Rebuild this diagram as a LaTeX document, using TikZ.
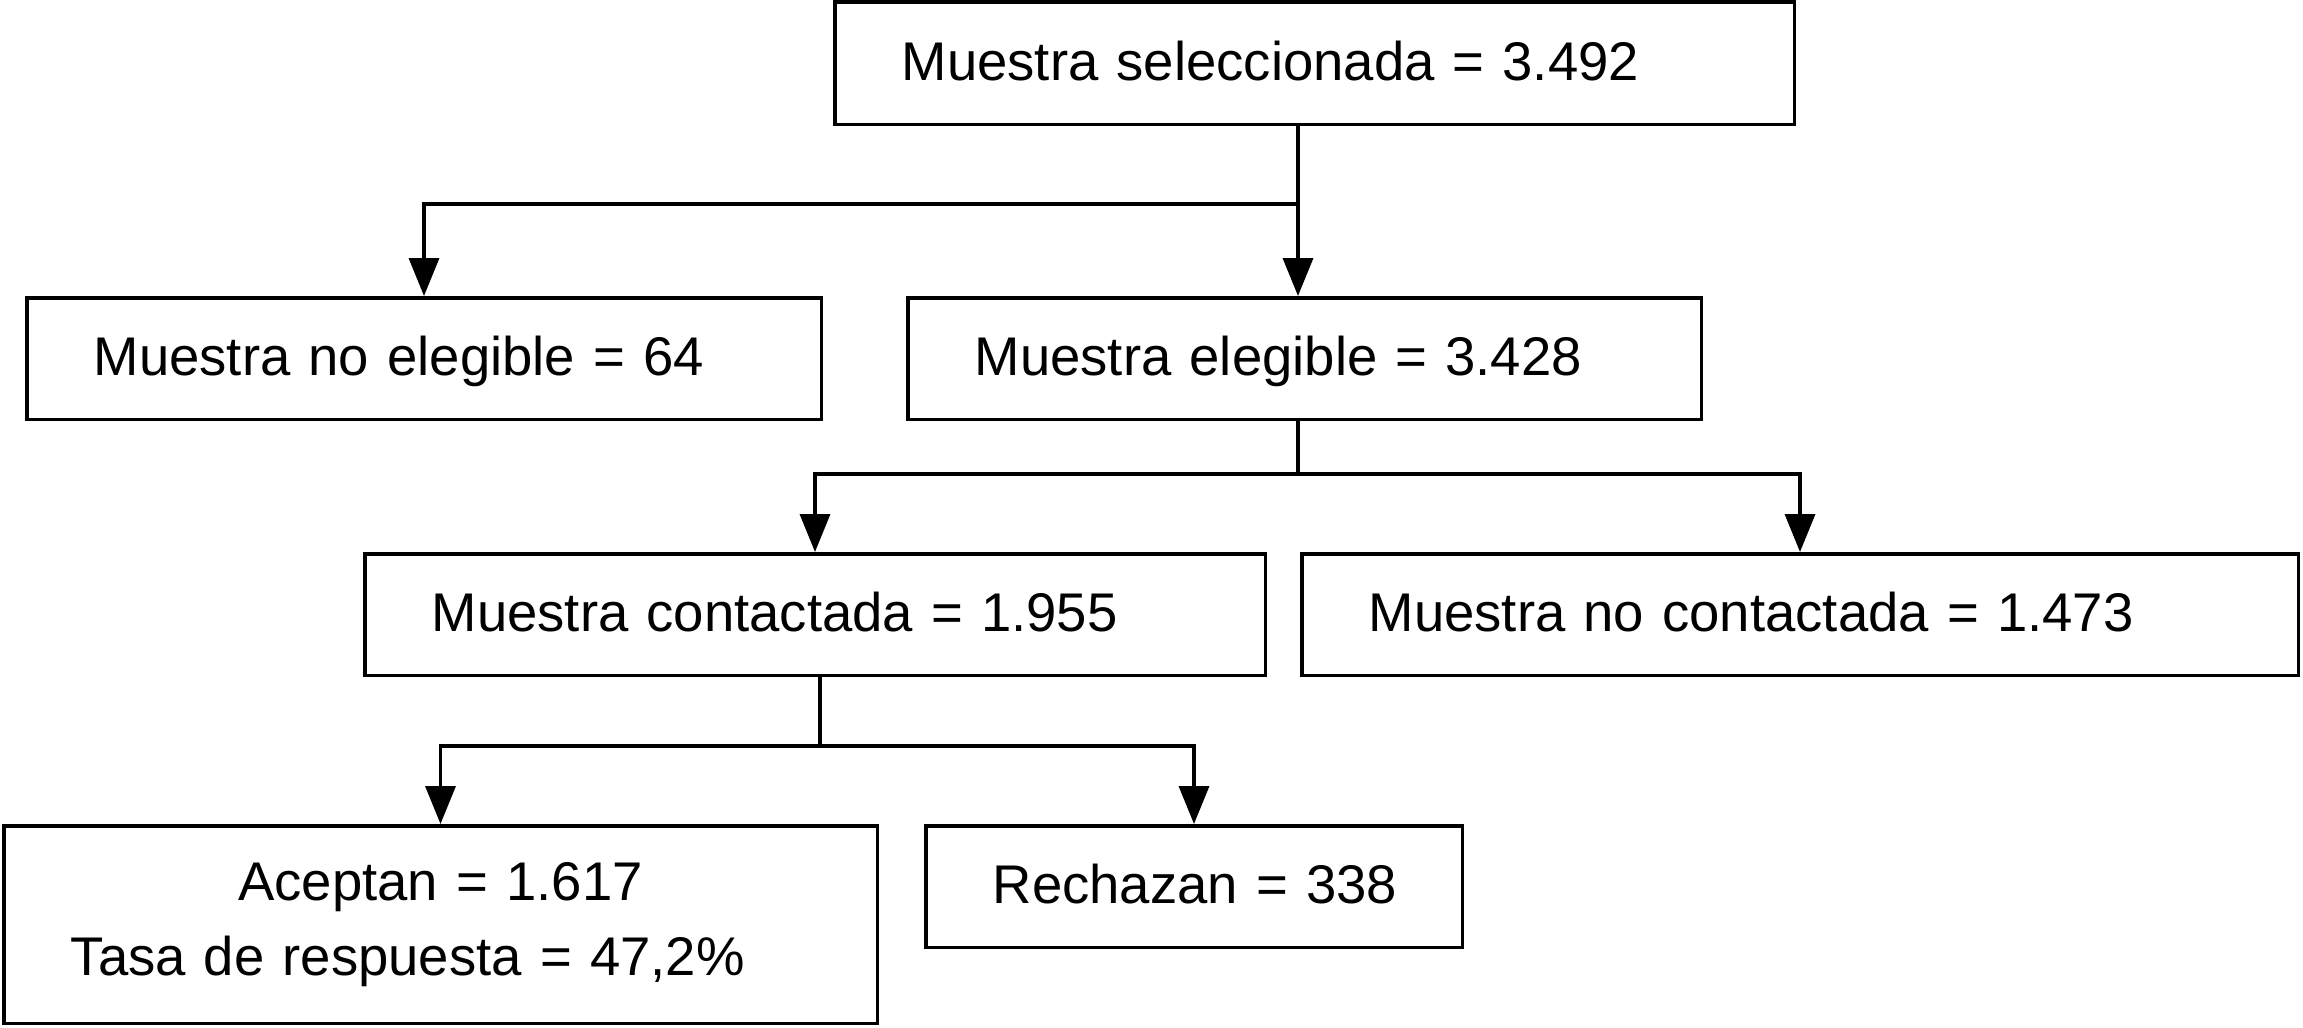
\documentclass[tikz,border=0pt]{standalone}
\usepackage{fontspec}
\setmainfont{Liberation Sans}
\usetikzlibrary{arrows.meta, positioning}

\begin{document}
\begin{tikzpicture}[
  box/.style={rectangle, draw=black, line width=1pt, align=left,
              inner xsep=0.67cm, inner ysep=0pt, minimum height=1.215cm,
              text height=11.1pt, text depth=1.4pt,
              font=\fontsize{15.5}{21.3}\selectfont},
  link/.style={-{Triangle[width=0.3cm, length=0.38cm]}, line width=1pt, draw=black}
]
  \useasboundingbox (0,0) rectangle (23.03,-10.27);

  \node[box, text width=8.255cm, minimum height=1.225cm] (selec) at (13.145,-0.63) {Muestra seleccionada = 3.492};
  \node[box, text width=6.605cm] (noeleg) at (4.24,-3.585) {Muestra no elegible = 64};
  \node[box, text width=6.595cm] (eleg)   at (13.045,-3.585) {Muestra elegible = 3.428};
  \node[box, text width=7.665cm] (contac) at (8.15,-6.145) {Muestra contactada = 1.955};
  \node[box, text width=8.625cm] (nocont) at (18.0,-6.145) {Muestra no contactada = 1.473};
  \node[box, text width=7.395cm, minimum height=1.975cm, text height=, text depth=] (acept) at (4.405,-9.245)
    {\makebox[\hsize]{Aceptan = 1.617}\\Tasa de respuesta = 47,2\%};
  \node[box, text width=4.025cm] (rechaz) at (11.94,-8.865) {\mbox{Rechazan = 338}};

  \coordinate (j1) at (12.98,-2.04);
  \coordinate (j2) at (12.98,-4.74);
  \coordinate (j3) at (8.2,-7.46);

  \draw[link] (j1 |- selec.south) -- (j1) -| (noeleg.north);
  \draw[link] (j1) -- (j1 |- eleg.north);
  \draw[link] (j2 |- eleg.south) -- (j2) -| (contac.north);
  \draw[link] (j2) -| (nocont.north);
  \draw[link] (j3 |- contac.south) -- (j3) -| (acept.north);
  \draw[link] (j3) -| (rechaz.north);

\end{tikzpicture}
\end{document}
